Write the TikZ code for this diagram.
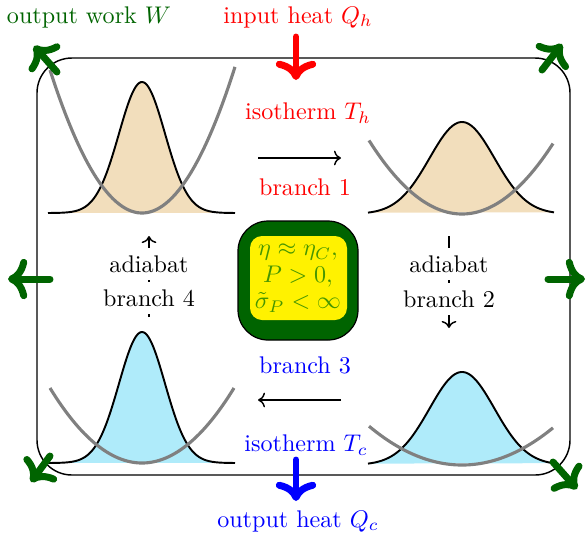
\documentclass[tikz,border=0pt]{standalone}
\usepackage{amsmath}
\usetikzlibrary{arrows.meta}
\definecolor{dkgreen}{RGB}{0,100,0}
\definecolor{hotfill}{RGB}{242,222,188}
\definecolor{coldfill}{RGB}{175,235,250}
\definecolor{boxtext}{RGB}{70,150,0}
\tikzset{
  bigarrow/.style={line width=2.9pt,-{To[scale=1.0]},line cap=round},
  workarrow/.style={bigarrow,draw=dkgreen},
  thinarrow/.style={line width=0.6pt,->},
  potential/.style={draw=gray,line width=1.3pt},
  dist/.style={draw=black,line width=0.8pt},
  lbl/.style={inner sep=1pt},
  adlbl/.style={fill=white,inner xsep=1.5pt,inner ysep=3pt},
}
\begin{document}
\begin{tikzpicture}[x=0.415pt,y=-0.415pt]
\useasboundingbox (0,0) rectangle (587,536);
% frame
\draw[line width=0.6pt,rounded corners=14.5pt] (37,58) rectangle (570,475);
% top-left panel
\fill[hotfill] plot[domain=-94:93,samples=120] ({142+\x},{213-131*exp(-(\x)^2/(2*23^2))}) -- cycle;
\draw[dist] plot[domain=-94:93,samples=120] ({142+\x},{213-131*exp(-(\x)^2/(2*23^2))});
\draw[potential] plot[domain=-92:93,samples=60] ({142+\x},{213-143*(\x/92)^2});
% top-right panel
\fill[hotfill] plot[domain=-94:92,samples=120] ({462+\x},{214-92*exp(-(\x)^2/(2*32.5^2))}) -- cycle;
\draw[dist] plot[domain=-94:92,samples=120] ({462+\x},{214-92*exp(-(\x)^2/(2*32.5^2))});
\draw[potential] plot[domain=-93:91,samples=60] ({462+\x},{214-72*(\x/92)^2});
% bottom-left panel
\fill[coldfill] plot[domain=-94:93,samples=120] ({142+\x},{463-131*exp(-(\x)^2/(2*23^2))}) -- cycle;
\draw[dist] plot[domain=-94:93,samples=120] ({142+\x},{463-131*exp(-(\x)^2/(2*23^2))});
\draw[potential] plot[domain=-92:92,samples=60] ({142+\x},{463-75*(\x/92)^2});
% bottom-right panel
\fill[coldfill] plot[domain=-94:91,samples=120] ({462+\x},{465-93*exp(-(\x)^2/(2*32.5^2))}) -- cycle;
\draw[dist] plot[domain=-94:91,samples=120] ({462+\x},{465-93*exp(-(\x)^2/(2*32.5^2))});
\draw[potential] plot[domain=-93:91,samples=60] ({462+\x},{465-38*(\x/92)^2});
% top/bottom texts
\node[lbl,text=dkgreen] (work) at (89,17) {output work $W$};
\node[lbl,text=red] (qin) at (298,17) {input heat $Q_h$};
\node[lbl,text=blue] (qout) at (298,521) {output heat $Q_c$};
\node[lbl,text=red] (isoh) at (308,113) {isotherm $T_h$};
\node[lbl,text=red] (b1) at (305,187) {branch 1};
\node[lbl,text=blue] (b3) at (305,365) {branch 3};
\node[lbl,text=blue] (isoc) at (306,445) {isotherm $T_c$};
% heat arrows
\coordinate (qinS) at (296,37);
\coordinate (qinE) at (296,80);
\coordinate (qoutS) at (296,460);
\coordinate (qoutE) at (296,501);
\draw[bigarrow,red] (qinS) -- (qinE);
\draw[bigarrow,blue] (qoutS) -- (qoutE);
% work arrows
\coordinate (tlS) at (57,72);   \coordinate (tlE) at (34,46);
\coordinate (trS) at (542,70);  \coordinate (trE) at (562,44);
\coordinate (lS) at (50,279);   \coordinate (lE) at (8,279);
\coordinate (rS) at (548,279);  \coordinate (rE) at (585,279);
\coordinate (blS) at (50,456);  \coordinate (blE) at (31,482);
\coordinate (brS) at (553,462); \coordinate (brE) at (577,489);
\draw[workarrow] (tlS) -- (tlE);
\draw[workarrow] (trS) -- (trE);
\draw[workarrow] (lS) -- (lE);
\draw[workarrow] (rS) -- (rE);
\draw[workarrow] (blS) -- (blE);
\draw[workarrow] (brS) -- (brE);
% isotherm arrows
\coordinate (b1S) at (258,158); \coordinate (b1E) at (341,158);
\coordinate (b3S) at (341,400); \coordinate (b3E) at (258,400);
\draw[thinarrow] (b1S) -- (b1E);
\draw[thinarrow] (b3S) -- (b3E);
% adiabats
\coordinate (a4S) at (149,317); \coordinate (a4E) at (149,236);
\coordinate (a2S) at (449,236); \coordinate (a2E) at (449,328);
\draw[thinarrow] (a4S) -- (a4E);
\draw[thinarrow] (a2S) -- (a2E);
\node[adlbl] (ad4) at (149,264) {adiabat};
\node[adlbl] (br4) at (149,298) {branch 4};
\node[adlbl] (ad2) at (449,264) {adiabat};
\node[adlbl] (br2) at (449,299) {branch 2};
% centre box
\draw[fill=dkgreen,draw=black,line width=0.5pt,rounded corners=12.5pt] (238,221) rectangle (358,340);
\fill[yellow,rounded corners=5pt] (250,236) rectangle (347,320);
\node[text=boxtext,align=center,inner sep=0pt] (cond) at (298,278)
  {$\eta\approx\eta_C,$\\[-1pt]$P>0,$\\[-1pt]$\tilde\sigma_P<\infty$};
\end{tikzpicture}
\end{document}
